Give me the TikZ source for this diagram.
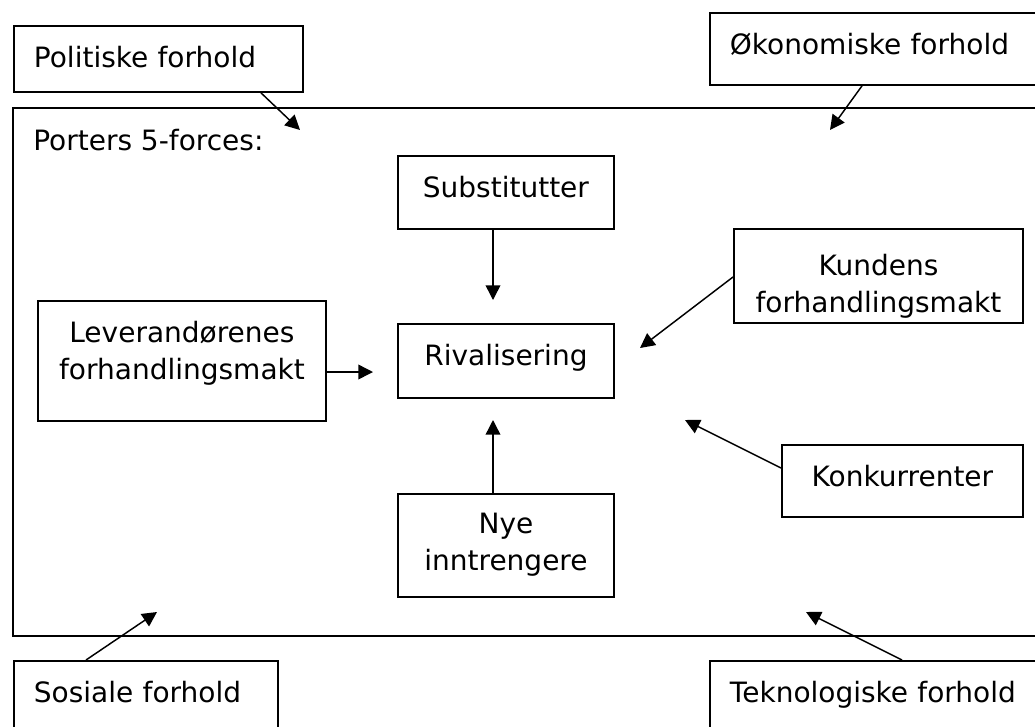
\documentclass[tikz,border=0pt]{standalone}
\usepackage{fontspec}
\setmainfont{DejaVu Sans}
\usetikzlibrary{arrows.meta}
\tikzset{forcebox/.style={draw,line width=1.4pt,inner sep=0pt,anchor=north west,
            align=center,text height=31.5pt},
    outerbox/.style={forcebox,align=left,inner xsep=15pt},
    forcearrow/.style={line width=1.1pt,-{Triangle[length=11pt,width=11pt]}}
}

\begin{document}
\begin{tikzpicture}[x=0.75pt,y=-0.75pt,font={\fontsize{21pt}{27.75pt}\selectfont}]
           \path[use as bounding box,clip] (0,0) rectangle (1035,726);
           % outer frame
           \draw[line width=1.4pt] (13,108) rectangle (1045,636);
           \node[anchor=base west,inner sep=0pt] (porter) at (33,150) {Porters 5-forces:};
           % surroundings
           \node[outerbox,text width=186.75pt,text depth=18pt] (pol) at (13,25) {Politiske forhold};
           \node[outerbox,text width=222pt,text depth=22.5pt] (oko) at (709,12) {Økonomiske forhold};
           \node[outerbox,text width=168pt,text depth=60pt] (sos) at (13,660) {Sosiale forhold};
           \node[outerbox,text width=222pt,text depth=60pt] (tek) at (709,660) {Teknologiske forhold};
           % five forces
           \node[forcebox,text width=162pt,text depth=23.25pt] (sub) at (397,155) {Substitutter};
           \node[forcebox,text width=162pt,text depth=24pt] (riv) at (397,323) {Rivalisering};
           \node[forcebox,text width=216pt,text depth=58.5pt] (lev) at (37,300) {Leverandørenes\\forhandlingsmakt};
           \node[forcebox,text width=216.75pt,text height=35pt,text depth=35.5pt] (kun) at (733,228) {Kundens\\forhandlingsmakt};
           \node[forcebox,text width=180.75pt,text depth=22.5pt] (kon) at (781,444) {Konkurrenter};
           \node[forcebox,text width=162pt,text height=30pt,text depth=47.25pt] (nye) at (397,493) {Nye\\inntrengere};
           % arrow tips
           \coordinate (poltip) at (300,130);
           \coordinate (okotip) at (830,130);
           \coordinate (sostip) at (157,612);
           \coordinate (tektip) at (806,612);
           \coordinate (subtip) at (493,300);
           \coordinate (nyetip) at (493,420);
           \coordinate (levtip) at (373,372);
           \coordinate (kuntip) at (640,348);
           \coordinate (kontip) at (685,420);
           \draw[forcearrow] (pol.south -| 261,0) -- (poltip);
           \draw[forcearrow] (oko.south -| 862,0) -- (okotip);
           \draw[forcearrow] (sos.north -| 86,0) -- (sostip);
           \draw[forcearrow] (tek.north -| 902,0) -- (tektip);
           \draw[forcearrow] (sub.south -| subtip) -- (subtip);
           \draw[forcearrow] (nye.north -| nyetip) -- (nyetip);
           \draw[forcearrow] (lev.east |- levtip) -- (levtip);
           \draw[forcearrow] (kun.west |- 0,277) -- (kuntip);
           \draw[forcearrow] (kon.west |- 0,468) -- (kontip);
         \end{tikzpicture}
\end{document}
